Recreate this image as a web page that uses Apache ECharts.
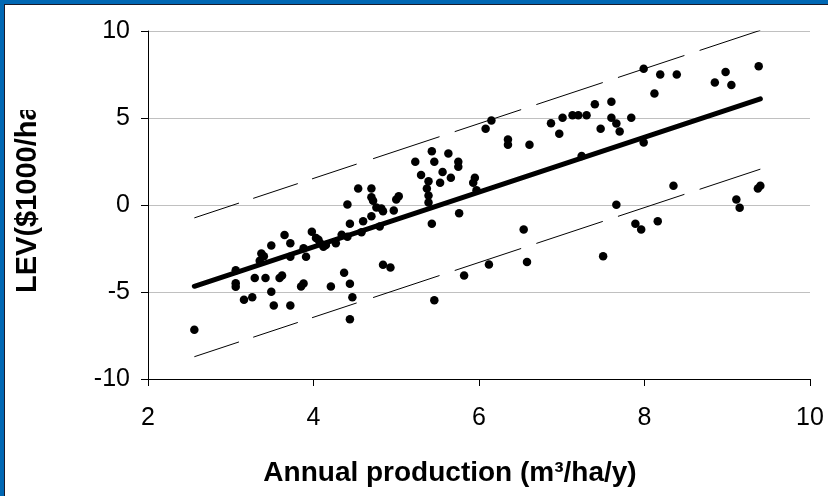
<!DOCTYPE html>
<html>
<head>
<meta charset="utf-8">
<script src="https://cdn.jsdelivr.net/npm/echarts@6/dist/echarts.min.js"></script>
<style>
html,body{margin:0;padding:0;background:#fff;}
#c{width:828px;height:496px;}
</style>
</head>
<body>
<div id="c"></div>
<script>
// Observed data: annual production (m3/ha/y) vs LEV ($1000/ha)
const prodX = [2.56,3.06,3.06,3.06,3.16,3.26,3.29,3.37,3.40,3.35,3.42,3.49,3.49,3.52,3.59,3.62,3.65,3.72,3.72,3.72,
  3.85,3.88,3.88,3.91,3.98,4.03,4.06,4.08,4.12,4.15,4.21,4.27,4.34,4.37,4.41,4.41,4.44,4.44,4.47,4.44,
  4.54,4.58,4.60,4.70,4.70,4.72,4.70,4.76,4.82,4.84,4.80,4.84,4.93,4.97,5.00,5.03,5.23,5.30,5.43,5.46,
  5.39,5.37,5.39,5.39,5.43,5.46,5.56,5.53,5.63,5.66,5.75,5.75,5.76,5.93,5.95,5.82,5.97,6.08,6.15,6.12,
  6.35,6.35,6.54,6.58,6.61,6.87,6.97,7.01,7.13,7.20,7.30,7.24,7.40,7.47,7.60,7.60,7.66,7.70,7.84,7.66,
  7.50,7.89,7.96,7.99,8.19,8.39,8.12,7.99,8.35,8.16,8.85,8.98,9.05,9.38,9.11,9.15,9.37,9.40];
const levY = [-7.17,-3.75,-4.50,-4.70,-5.45,-5.30,-4.20,-2.79,-2.94,-3.20,-4.20,-2.33,-4.98,-5.78,-4.20,-4.05,-1.72,-2.20,-5.78,-2.98,
  -4.68,-4.51,-2.48,-2.98,-1.54,-1.90,-2.00,-2.20,-2.40,-2.30,-4.68,-2.20,-1.71,-3.90,0.03,-1.83,-1.08,-4.53,-5.30,-6.56,
  0.95,-1.56,-0.93,0.95,0.45,0.25,-0.64,-0.15,-0.20,-0.36,-1.24,-3.44,-3.59,-0.32,0.32,0.50,2.48,1.72,3.09,2.48,
  1.37,0.95,0.55,0.15,-1.08,-5.47,1.89,1.28,2.96,1.56,2.48,2.20,-0.47,1.28,1.56,-4.05,0.85,4.38,4.86,-3.42,
  3.76,3.46,-1.41,-3.27,3.46,4.70,4.09,5.01,5.16,5.16,5.16,2.81,5.79,4.38,5.93,5.01,4.68,4.22,5.01,0.01,
  -2.94,-1.08,-1.41,7.83,7.50,7.50,6.41,3.59,1.10,-0.93,7.04,7.65,6.89,7.98,0.32,-0.16,0.95,1.10];

// Fitted trend line and prediction bands (as drawn in the source)
const trendX = [2.56, 9.40];
const trendY = [-4.67, 6.10];
const bandX1 = [2.56, 4.54];
const bandX2 = [4.72, 9.40];
const upperY1 = [-0.74, 2.38];
const upperY2 = [2.66, 10.04];
const lowerY1 = [-8.72, -5.60];
const lowerY2 = [-5.32, 2.06];

const xTicks = [2, 4, 6, 8, 10];
const yTicks = [-10, -5, 0, 5, 10];

const xTitle = 'Annual production (m\u00b3/ha/y)';
const yTitle = 'LEV($1000/ha)';

function pairs(xs, ys){ return xs.map((x,i)=>[x, ys[i]]); }

const chart = echarts.init(document.getElementById('c'), null, {renderer:'canvas'});
const tickFont = '"Liberation Sans Narrow", "Liberation Sans", Arial, sans-serif';
const titleFont = '"Liberation Sans", Arial, sans-serif';

function bandSeries(data, dash){
  return {type:'line', data:data, symbol:'none', silent:true, z:3,
    lineStyle:{color:'#000', width:1, type:dash, cap:'butt'}};
}

chart.setOption({
  animation:false,
  backgroundColor:'#fff',
  grid:{left:148, top:31, width:662, height:348, containLabel:false},
  xAxis:{type:'value', min:xTicks[0], max:xTicks[xTicks.length-1], interval:2,
    axisLine:{show:true, onZero:false, lineStyle:{color:'#000', width:1}},
    axisTick:{show:true, inside:false, length:7, lineStyle:{color:'#000'}},
    axisLabel:{color:'#000', fontSize:25, fontFamily:tickFont, margin:27},
    splitLine:{show:false},
    name:xTitle, nameLocation:'middle', nameGap:80,
    nameTextStyle:{color:'#000', fontSize:28, fontWeight:'bold', fontFamily:titleFont, padding:[0,58,0,0]}
  },
  yAxis:{type:'value', min:yTicks[0], max:yTicks[yTicks.length-1], interval:5,
    axisLine:{show:true, onZero:false, lineStyle:{color:'#000', width:1}},
    axisTick:{show:true, inside:false, length:7, lineStyle:{color:'#000'}},
    axisLabel:{color:'#000', fontSize:25, fontFamily:tickFont, margin:18},
    splitLine:{show:true, lineStyle:{color:'#c0c0c0', width:1}}
  },
  graphic:[
    {type:'text', left:13, bottom:203, rotation:Math.PI/2, z:5,
      style:{text:yTitle, fill:'#000', font:'bold 29px ' + titleFont}},
    {type:'rect', shape:{x:5, y:5, width:60, height:105}, style:{fill:'#fff'}, z:50},
    {type:'rect', shape:{x:0, y:0, width:828, height:4}, style:{fill:'#0068B4'}, z:100},
    {type:'rect', shape:{x:0, y:0, width:4, height:496}, style:{fill:'#0068B4'}, z:100},
    {type:'rect', shape:{x:4, y:4, width:824, height:1}, style:{fill:'#1a1a2a'}, z:100},
    {type:'rect', shape:{x:4, y:4, width:1, height:492}, style:{fill:'#1a1a2a'}, z:100}
  ],
  series:[
    {type:'scatter', data:pairs(prodX, levY), symbol:'circle', symbolSize:8.5,
      itemStyle:{color:'#000', opacity:1}, z:4},
    {type:'line', data:pairs(trendX, trendY), symbol:'none', z:3,
      lineStyle:{color:'#000', width:5, cap:'round'}},
    bandSeries(pairs(bandX1, upperY1), [47,15]),
    bandSeries(pairs(bandX2, upperY2), [70,16]),
    bandSeries(pairs(bandX1, lowerY1), [47,15]),
    bandSeries(pairs(bandX2, lowerY2), [70,16])
  ]
});
</script>
</body>
</html>
